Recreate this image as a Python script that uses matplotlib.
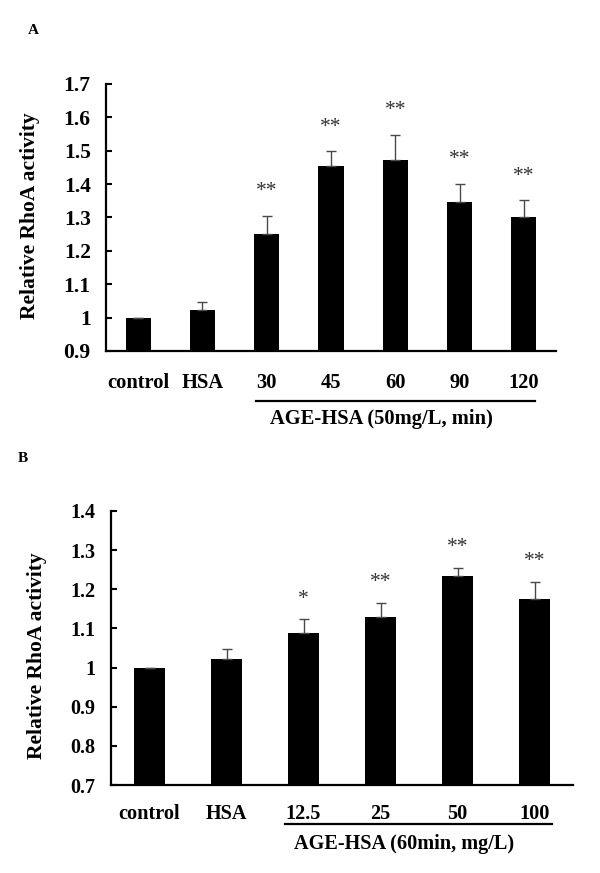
import matplotlib
matplotlib.use("Agg")
import matplotlib.pyplot as plt
import matplotlib.transforms as mtransforms

plt.rcParams['font.family'] = ['Liberation Serif', 'DejaVu Serif']
plt.rcParams['font.weight'] = 'bold'

# Panel A data
cats_a = ["control", "HSA", "30", "45", "60", "90", "120"]
vals_a = [1.0, 1.023, 1.25, 1.453, 1.473, 1.347, 1.301]
errs_a = [0.0, 0.024, 0.055, 0.045, 0.075, 0.054, 0.051]
sig_a = ["", "", "**", "**", "**", "**", "**"]
group_a = "AGE-HSA (50mg/L, min)"
yticks_a = [0.9, 1.0, 1.1, 1.2, 1.3, 1.4, 1.5, 1.6, 1.7]
yticklabels_a = ["0.9", "1", "1.1", "1.2", "1.3", "1.4", "1.5", "1.6", "1.7"]

# Panel B data
cats_b = ["control", "HSA", "12.5", "25", "50", "100"]
vals_b = [1.0, 1.022, 1.087, 1.129, 1.235, 1.174]
errs_b = [0.0, 0.026, 0.036, 0.037, 0.02, 0.044]
sig_b = ["", "", "*", "**", "**", "**"]
group_b = "AGE-HSA (60min, mg/L)"
yticks_b = [0.7, 0.8, 0.9, 1.0, 1.1, 1.2, 1.3, 1.4]
yticklabels_b = ["0.7", "0.8", "0.9", "1", "1.1", "1.2", "1.3", "1.4"]

ylabel = "Relative RhoA activity"

fig = plt.figure(figsize=(6, 8.73), dpi=100)

def panel(rect, cats, vals, errs, sig, yticks, yticklabels, ylim, star_off,
          tick_fs, xlab_fs, xpad, group, line_x, line_y, text_x, text_y):
    ax = fig.add_axes(rect)
    x = list(range(len(cats)))
    ax.bar(x, vals, width=0.39, color="black", bottom=0, zorder=2)
    ax.errorbar(x, vals, yerr=[[0]*len(errs), errs], fmt="none",
                ecolor="#4a4a4a", elinewidth=1.0, capsize=3.5, capthick=1.0, zorder=3)
    for xi, v, e, s in zip(x, vals, errs, sig):
        if s:
            ax.text(xi, v + e + star_off, s, ha="center", va="center",
                    fontsize=15.5, color="#333333", fontweight="normal")
    ax.set_xlim(-0.5, len(cats) - 0.5)
    ax.set_ylim(*ylim)
    ax.set_yticks(yticks)
    ax.set_yticklabels(yticklabels, fontsize=tick_fs, fontweight="bold")
    ax.set_xticks(x)
    ax.set_xticklabels(cats, fontsize=xlab_fs, fontweight="bold")
    ax.tick_params(axis="x", length=0, pad=xpad)
    ax.tick_params(axis="y", direction="in", length=4, width=1.5, pad=11)
    for sp in ["top", "right"]:
        ax.spines[sp].set_visible(False)
    for sp in ["left", "bottom"]:
        ax.spines[sp].set_linewidth(1.6)
    trans = mtransforms.blended_transform_factory(ax.transData, ax.transAxes)
    ax.plot(line_x, [line_y, line_y], color="black", lw=1.6, transform=trans,
            clip_on=False)
    ax.text(text_x, text_y, group, ha="center", va="center", transform=trans,
            fontsize=xlab_fs, fontweight="bold")
    return ax

panel([0.1767, 0.598, 0.75, 0.3058], cats_a, vals_a, errs_a, sig_a,
      yticks_a, yticklabels_a, (0.9, 1.7), 0.072, 15.5, 14.8, 16,
      group_a, [1.833, 6.17], -0.186, 3.79, -0.255)
panel([0.185, 0.1008, 0.77, 0.3139], cats_b, vals_b, errs_b, sig_b,
      yticks_b, yticklabels_b, (0.7, 1.4), 0.052, 14.5, 14.6, 13.5,
      group_b, [1.76, 5.23], -0.142, 3.31, -0.215)

fig.text(0.05, 1 - 216/873, ylabel, rotation=90, ha="center", va="center",
         fontsize=15.5, fontweight="bold")
fig.text(0.062, 1 - 656/873, ylabel, rotation=90, ha="center", va="center",
         fontsize=15.5, fontweight="bold")
fig.text(33/600, 1 - 31/873, "A", ha="center", va="center", fontsize=11, fontweight="bold")
fig.text(23/600, 1 - 458/873, "B", ha="center", va="center", fontsize=11, fontweight="bold")

fig.savefig("out.png", dpi=100)
